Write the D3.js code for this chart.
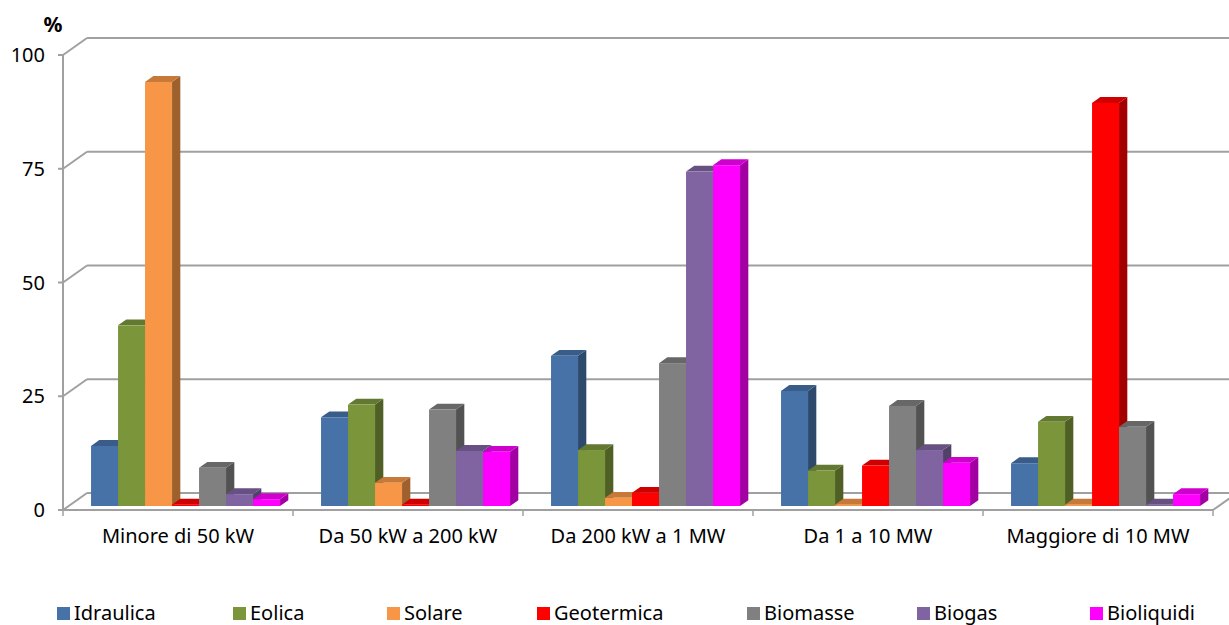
<!DOCTYPE html>
<html>
<head>
<meta charset="utf-8">
<script src="https://cdn.jsdelivr.net/npm/d3@7/dist/d3.min.js"></script>
<style>
  html, body { margin: 0; padding: 0; background: #fff; }
  svg { display: block; font-family: "Noto Sans", "Open Sans", sans-serif; }
</style>
</head>
<body>
<svg id="chart" width="1229" height="625"></svg>
<script>
// Categories (plant size classes) and energy sources
const categories = ["Minore di 50 kW", "Da 50 kW a 200 kW", "Da 200 kW a 1 MW", "Da 1 a 10 MW", "Maggiore di 10 MW"];
const sources = ["Idraulica", "Eolica", "Solare", "Geotermica", "Biomasse", "Biogas", "Bioliquidi"];

// Share (%) per size class, one array per source
const idraulica  = [13.2, 19.5, 33.0, 25.3, 9.4];
const eolica     = [39.7, 22.3, 12.3, 7.8, 18.5];
const solare     = [93.2, 5.1, 1.8, 0.3, 0.3];
const geotermica = [0.3, 0.3, 2.9, 8.9, 88.6];
const biomasse   = [8.4, 21.2, 31.4, 22.0, 17.4];
const biogas     = [2.6, 12.1, 73.5, 12.3, 0.3];
const bioliquidi = [1.5, 11.9, 74.9, 9.5, 2.6];

const yTicks = [0, 25, 50, 75, 100];
const colors = ["#4672a8", "#7b953b", "#f79646", "#ff0000", "#808080", "#8064a2", "#ff00ff"];

const seriesValues = [idraulica, eolica, solare, geotermica, biomasse, biogas, bioliquidi];

(function draw() {
  const svg = d3.select("#chart");

  // Front plane of the 3D box and the depth offset of the back wall
  const plotLeft = 63, plotRight = 1213, plotBase = 510, plotTop = 55;
  const depthX = 24, depthY = -17;
  // Bars sit inside the box between these depth fractions
  const barF = 0.235, barB = 0.58;

  const x0 = d3.scaleBand().domain(categories).range([plotLeft, plotRight]);
  const x1 = d3.scaleBand().domain(sources).range([22.4, 22.4 + 189]);
  const y = d3.scaleLinear().domain([0, 100]).range([plotBase, plotTop]);

  const gridColor = "#a0a0a0";

  // Back wall gridlines, side wall diagonals and axis ticks
  const grid = svg.append("g");
  yTicks.forEach(t => {
    const yy = y(t);
    grid.append("line")
      .attr("x1", plotLeft + depthX).attr("y1", yy + depthY)
      .attr("x2", 1240).attr("y2", yy + depthY)
      .attr("stroke", gridColor).attr("stroke-width", 2);
    grid.append("line")
      .attr("x1", plotLeft).attr("y1", yy)
      .attr("x2", plotLeft + depthX).attr("y2", yy + depthY)
      .attr("stroke", gridColor).attr("stroke-width", 2);
    grid.append("line")
      .attr("x1", plotLeft - 5).attr("y1", yy)
      .attr("x2", plotLeft).attr("y2", yy)
      .attr("stroke", gridColor).attr("stroke-width", 2);
    grid.append("text")
      .attr("x", 45).attr("y", yy + 7)
      .attr("text-anchor", "end")
      .attr("font-size", 20)
      .attr("fill", "#000")
      .text(t);
  });

  // Vertical front axis
  grid.append("line")
    .attr("x1", plotLeft).attr("y1", y(100))
    .attr("x2", plotLeft).attr("y2", y(0))
    .attr("stroke", gridColor).attr("stroke-width", 2);

  // Floor front edge and right edge
  grid.append("line")
    .attr("x1", plotLeft).attr("y1", plotBase)
    .attr("x2", plotRight).attr("y2", plotBase)
    .attr("stroke", gridColor).attr("stroke-width", 2);
  grid.append("line")
    .attr("x1", plotRight).attr("y1", plotBase)
    .attr("x2", plotRight + depthX).attr("y2", plotBase + depthY)
    .attr("stroke", gridColor).attr("stroke-width", 2);

  // Category tick marks
  categories.map(c => x0(c)).concat([plotRight]).forEach(xx => {
    grid.append("line")
      .attr("x1", xx).attr("y1", plotBase)
      .attr("x2", xx).attr("y2", plotBase + 6)
      .attr("stroke", gridColor).attr("stroke-width", 1.5);
  });

  // Unit label
  svg.append("text")
    .attr("x", 53).attr("y", 32)
    .attr("text-anchor", "middle")
    .attr("font-size", 21)
    .attr("font-weight", "bold")
    .text("%");

  // Bars as oblique boxes: side face, top face, front face
  const bx = depthX * barF, by = depthY * barF;
  const ddx = depthX * (barB - barF), ddy = depthY * (barB - barF);
  const bars = svg.append("g");

  categories.forEach((cat, ci) => {
    sources.forEach((src, si) => {
      const v = seriesValues[si][ci];
      const xl = x0(cat) + bx + x1(src);
      const xr = xl + x1.bandwidth();
      const yb = y(0) + by;
      const yt = y(v) + by;
      const c = d3.color(colors[si]);
      const topCol = c.darker(0.6).formatHex();
      const sideCol = c.darker(1.25).formatHex();
      const g = bars.append("g");
      g.append("path")
        .attr("d", `M${xr},${yb}L${xr + ddx},${yb + ddy}L${xr + ddx},${yt + ddy}L${xr},${yt}Z`)
        .attr("fill", sideCol);
      g.append("path")
        .attr("d", `M${xl},${yt}L${xl + ddx},${yt + ddy}L${xr + ddx},${yt + ddy}L${xr},${yt}Z`)
        .attr("fill", topCol);
      g.append("rect")
        .attr("x", xl).attr("y", yt)
        .attr("width", xr - xl).attr("height", yb - yt)
        .attr("fill", colors[si]);
    });
  });

  // Category labels
  svg.append("g").selectAll("text")
    .data(categories)
    .join("text")
    .attr("x", d => x0(d) + x0.bandwidth() / 2)
    .attr("y", 543)
    .attr("text-anchor", "middle")
    .attr("font-size", 20)
    .text(d => d);

  // Legend
  const legendX = [57, 233, 387, 537, 747, 917, 1090];
  const legend = svg.append("g");
  sources.forEach((s, i) => {
    legend.append("rect")
      .attr("x", legendX[i]).attr("y", 607)
      .attr("width", 13).attr("height", 13)
      .attr("fill", colors[i]);
    legend.append("text")
      .attr("x", legendX[i] + 17).attr("y", 620)
      .attr("font-size", 20)
      .text(s);
  });
})();
</script>
</body>
</html>
